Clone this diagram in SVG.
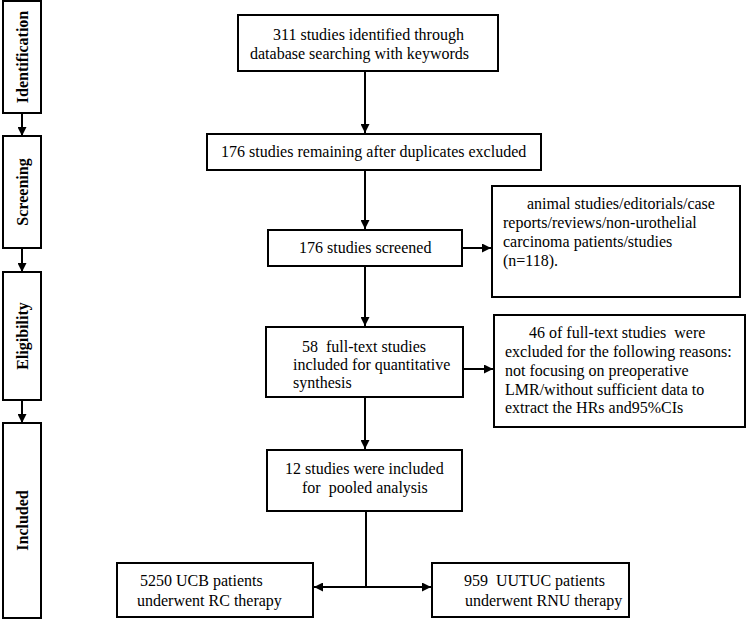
<svg xmlns="http://www.w3.org/2000/svg" width="747" height="620" viewBox="0 0 747 620">
<style>
.box{fill:#fff;stroke:#000;stroke-width:2}
.t{font-family:"Liberation Serif","Times New Roman",serif;font-size:16px;fill:#000;white-space:pre}
.s{font-family:"Liberation Serif","Times New Roman",serif;font-size:16px;font-weight:bold;fill:#000;text-anchor:middle}
.c{fill:none;stroke:#000;stroke-width:2}
</style>
<defs>
<marker id="ah" viewBox="0 0 10 10" refX="10" refY="5" markerWidth="4.5" markerHeight="4.5" orient="auto-start-reverse" markerUnits="strokeWidth">
<path d="M0,0 L10,5 L0,10 z" fill="#000"/>
</marker>
</defs>
<rect width="747" height="620" fill="#fff"/>
<g id="stage-identification"><rect class="box" x="3" y="1" width="38" height="112"/><text class="s" x="22" y="62.5" transform="rotate(-90 22 57)">Identification</text></g>
<g id="stage-screening"><rect class="box" x="3" y="136" width="38" height="112"/><text class="s" x="22" y="197.5" transform="rotate(-90 22 192)">Screening</text></g>
<g id="stage-eligibility"><rect class="box" x="3" y="272" width="38" height="128"/><text class="s" x="22" y="341.5" transform="rotate(-90 22 336)">Eligibility</text></g>
<g id="stage-included"><rect class="box" x="3" y="423" width="38" height="195"/><text class="s" x="22" y="526" transform="rotate(-90 22 520.5)">Included</text></g>
<g id="n-identified"><rect class="box" x="238" y="15" width="260" height="56"/><text class="t" x="273" y="40">311 studies identified through</text><text class="t" x="250" y="59">database searching with keywords</text></g>
<g id="n-remaining"><rect class="box" x="207" y="134" width="334" height="36"/><text class="t" x="221" y="157">176 studies remaining after duplicates excluded</text></g>
<g id="n-screened"><rect class="box" x="268" y="230" width="194" height="36"/><text class="t" x="299" y="253">176 studies screened</text></g>
<g id="n-excl1"><rect class="box" x="492" y="186" width="248" height="111"/><text class="t" x="527" y="209">animal studies/editorials/case</text><text class="t" x="503" y="228">reports/reviews/non-urothelial</text><text class="t" x="503" y="247">carcinoma patients/studies</text><text class="t" x="503" y="266">(n=118).</text></g>
<g id="n-fulltext"><rect class="box" x="266" y="327" width="197" height="70"/><text class="t" x="302" y="352">58  full-text studies</text><text class="t" x="293" y="370">included for quantitative</text><text class="t" x="293" y="388">synthesis</text></g>
<g id="n-excl2"><rect class="box" x="494" y="315" width="251" height="112"/><text class="t" x="529" y="338">46 of full-text studies  were</text><text class="t" x="505" y="357">excluded for the following reasons:</text><text class="t" x="505" y="376">not focusing on preoperative</text><text class="t" x="505" y="395">LMR/without sufficient data to</text><text class="t" x="505" y="413">extract the HRs and95%CIs</text></g>
<g id="n-pooled"><rect class="box" x="267" y="450" width="195" height="61"/><text class="t" x="285" y="474">12 studies were included</text><text class="t" x="302" y="493">for  pooled analysis</text></g>
<g id="n-ucb"><rect class="box" x="117" y="563" width="196" height="54"/><text class="t" x="140" y="586">5250 UCB patients</text><text class="t" x="137" y="606">underwent RC therapy</text></g>
<g id="n-uutuc"><rect class="box" x="432" y="563" width="197" height="54"/><text class="t" x="464" y="586">959  UUTUC patients</text><text class="t" x="465" y="606">underwent RNU therapy</text></g>
<g id="connectors">
<line class="c" x1="22" y1="113" x2="22" y2="136" marker-end="url(#ah)"/>
<line class="c" x1="22" y1="248" x2="22" y2="272" marker-end="url(#ah)"/>
<line class="c" x1="22" y1="400" x2="22" y2="423" marker-end="url(#ah)"/>
<line class="c" x1="365" y1="71" x2="365" y2="133" marker-end="url(#ah)"/>
<line class="c" x1="365" y1="170" x2="365" y2="229" marker-end="url(#ah)"/>
<line class="c" x1="462" y1="248" x2="491" y2="248" marker-end="url(#ah)"/>
<line class="c" x1="365" y1="266" x2="365" y2="326" marker-end="url(#ah)"/>
<line class="c" x1="463" y1="369" x2="493" y2="369" marker-end="url(#ah)"/>
<line class="c" x1="365" y1="397" x2="365" y2="449" marker-end="url(#ah)"/>
<line class="c" x1="366" y1="511" x2="366" y2="587"/>
<line class="c" x1="314" y1="587" x2="431" y2="587" marker-start="url(#ah)" marker-end="url(#ah)"/>
</g>
</svg>
